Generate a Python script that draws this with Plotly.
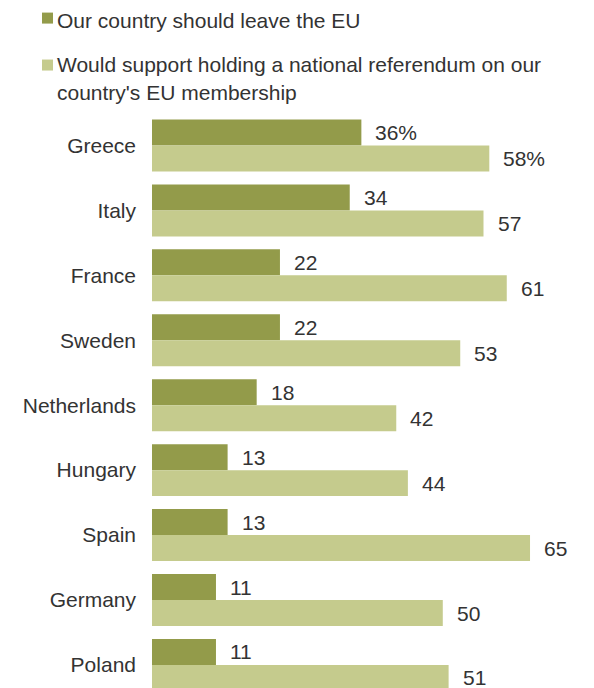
import plotly.graph_objects as go

countries = ["Greece", "Italy", "France", "Sweden", "Netherlands", "Hungary", "Spain", "Germany", "Poland"]
leave_eu = [36, 34, 22, 22, 18, 13, 13, 11, 11]
referendum = [58, 57, 61, 53, 42, 44, 65, 50, 51]
legend_lines = ["Our country should leave the EU",
                "Would support holding a national referendum on our",
                "country's EU membership"]
dark = "#939b4a"
light = "#c5cb8d"
txt = "#333333"
font_family = "Liberation Sans, Arial, sans-serif"
fs = 21

fig = go.Figure()
fig.add_trace(go.Bar(y=countries, x=leave_eu, orientation="h", marker_color=dark,
                     marker_line_width=0, name=legend_lines[0], showlegend=False))
fig.add_trace(go.Bar(y=countries, x=referendum, orientation="h", marker_color=light,
                     marker_line_width=0, name=legend_lines[1], showlegend=False))

for i, c in enumerate(countries):
    suf = "%" if i == 0 else ""
    fig.add_annotation(x=leave_eu[i], y=c, text=f"{leave_eu[i]}{suf}", showarrow=False,
                       xanchor="left", xshift=12, yshift=13,
                       font=dict(size=fs, color=txt, family=font_family))
    fig.add_annotation(x=referendum[i], y=c, text=f"{referendum[i]}{suf}", showarrow=False,
                       xanchor="left", xshift=12, yshift=-13,
                       font=dict(size=fs, color=txt, family=font_family))

# page has an 8px body margin: figure coordinates = screen - 8
W, H = 586, 680
L, T = 144, 104.5
pw, ph = W - L, H - T

def px_x(x):
    return (x - L) / pw

def px_y(y):
    return 1 - (y - T) / ph

fig.add_shape(type="rect", xref="paper", yref="paper", x0=px_x(34), x1=px_x(45),
              y0=px_y(15), y1=px_y(4), line_width=0, fillcolor=dark)
fig.add_shape(type="rect", xref="paper", yref="paper", x0=px_x(34), x1=px_x(45),
              y0=px_y(62), y1=px_y(51), line_width=0, fillcolor=light)
for text, yc in zip(legend_lines, [11.5, 55.5, 84]):
    fig.add_annotation(xref="paper", yref="paper", x=px_x(48), y=px_y(yc), text=text,
                       showarrow=False, xanchor="left", yanchor="middle", align="left",
                       borderpad=0,
                       font=dict(size=fs, color=txt, family=font_family))

fig.update_layout(
    width=W, height=H,
    margin=dict(l=L, r=0, t=T, b=0),
    paper_bgcolor="white", plot_bgcolor="white",
    barmode="group", bargap=0.2, bargroupgap=0,
    xaxis=dict(range=[0, 76], visible=False, fixedrange=True),
    yaxis=dict(range=[8.355, -0.5], showgrid=False, zeroline=False, showline=False,
               ticks="", ticklabelstandoff=15,
               tickfont=dict(size=fs, color=txt, family=font_family)),
    showlegend=False,
)

fig.write_html("out.html")
